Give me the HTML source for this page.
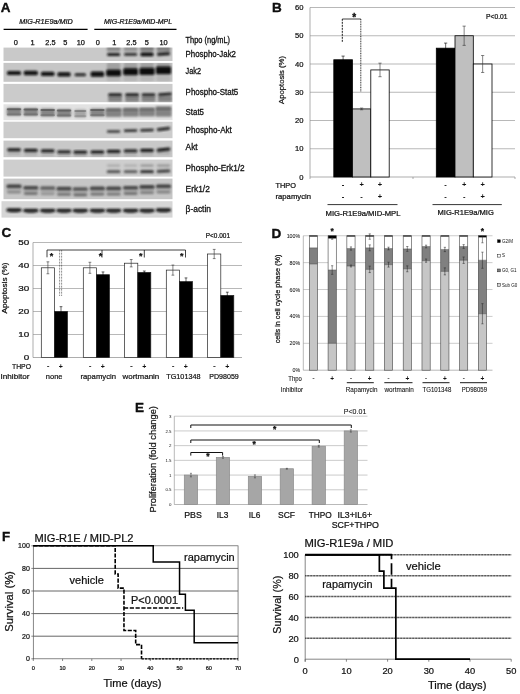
<!DOCTYPE html>
<html lang="en"><head><meta charset="utf-8"><title>Figure</title>
<style>html,body{margin:0;padding:0;background:#fff}svg{display:block}text{font-family:'Liberation Sans',sans-serif;fill:#111}</style>
</head><body>
<svg width="520" height="694" viewBox="0 0 520 694">
<rect width="520" height="694" fill="#fff"/>
<g id="panelA">
<text x="0.8" y="12.1" font-size="13.5" font-weight="bold" fill="#000" stroke="#000" stroke-width="0.35">A</text>
<text x="46" y="24.1" font-size="6.8" text-anchor="middle" textLength="53.5" lengthAdjust="spacingAndGlyphs" font-style="italic" stroke="#111" stroke-width="0.22">MIG-R1E9a/MID</text>
<text x="138" y="24.1" font-size="6.8" text-anchor="middle" textLength="68" lengthAdjust="spacingAndGlyphs" font-style="italic" stroke="#111" stroke-width="0.22">MIG-R1E9a/MID-MPL</text>
<line x1="3.6" y1="29.3" x2="87.6" y2="29.3" stroke="#000" stroke-width="1.3"/>
<line x1="94.3" y1="29.3" x2="176.5" y2="29.3" stroke="#000" stroke-width="1.3"/>
<text x="15.8" y="45.1" font-size="7.4" text-anchor="middle" stroke="#111" stroke-width="0.25">0</text>
<text x="32.6" y="45.1" font-size="7.4" text-anchor="middle" stroke="#111" stroke-width="0.25">1</text>
<text x="50.5" y="45.1" font-size="7.4" text-anchor="middle" stroke="#111" stroke-width="0.25">2.5</text>
<text x="65.4" y="45.1" font-size="7.4" text-anchor="middle" stroke="#111" stroke-width="0.25">5</text>
<text x="80.8" y="45.1" font-size="7.4" text-anchor="middle" stroke="#111" stroke-width="0.25">10</text>
<text x="97.8" y="45.1" font-size="7.4" text-anchor="middle" stroke="#111" stroke-width="0.25">0</text>
<text x="114.2" y="45.1" font-size="7.4" text-anchor="middle" stroke="#111" stroke-width="0.25">1</text>
<text x="131.5" y="45.1" font-size="7.4" text-anchor="middle" stroke="#111" stroke-width="0.25">2.5</text>
<text x="146.7" y="45.1" font-size="7.4" text-anchor="middle" stroke="#111" stroke-width="0.25">5</text>
<text x="163.5" y="45.1" font-size="7.4" text-anchor="middle" stroke="#111" stroke-width="0.25">10</text>
<text x="185.6" y="42.5" font-size="8.2" textLength="44.5" lengthAdjust="spacingAndGlyphs" stroke="#111" stroke-width="0.3">Thpo (ng/mL)</text>
<text x="185.6" y="57.3" font-size="8.8" textLength="50.4" lengthAdjust="spacingAndGlyphs" stroke="#111" stroke-width="0.3">Phospho-Jak2</text>
<text x="185.6" y="73.6" font-size="8.8" textLength="15.4" lengthAdjust="spacingAndGlyphs" stroke="#111" stroke-width="0.3">Jak2</text>
<text x="185.6" y="94.5" font-size="8.8" textLength="52.7" lengthAdjust="spacingAndGlyphs" stroke="#111" stroke-width="0.3">Phospho-Stat5</text>
<text x="185.6" y="114.8" font-size="8.8" textLength="18.4" lengthAdjust="spacingAndGlyphs" stroke="#111" stroke-width="0.3">Stat5</text>
<text x="185.6" y="132.6" font-size="8.8" textLength="46.2" lengthAdjust="spacingAndGlyphs" stroke="#111" stroke-width="0.3">Phospho-Akt</text>
<text x="185.6" y="150.3" font-size="8.8" textLength="12.1" lengthAdjust="spacingAndGlyphs" stroke="#111" stroke-width="0.3">Akt</text>
<text x="185.6" y="170.5" font-size="8.8" textLength="59.1" lengthAdjust="spacingAndGlyphs" stroke="#111" stroke-width="0.3">Phospho-Erk1/2</text>
<text x="185.6" y="191.5" font-size="8.8" textLength="24.2" lengthAdjust="spacingAndGlyphs" stroke="#111" stroke-width="0.3">Erk1/2</text>
<text x="185.6" y="212.2" font-size="8.8" textLength="25.4" lengthAdjust="spacingAndGlyphs" stroke="#111" stroke-width="0.3">β-actin</text>
<defs><filter id="b1" x="-20%" y="-50%" width="140%" height="200%"><feGaussianBlur stdDeviation="0.9"/></filter><filter id="b2" x="-20%" y="-50%" width="140%" height="200%"><feGaussianBlur stdDeviation="1.3"/></filter><filter id="b0" x="-20%" y="-50%" width="140%" height="200%"><feGaussianBlur stdDeviation="0.6"/></filter></defs>
<clipPath id="c0"><rect x="3.5" y="47.6" width="169.0" height="13.399999999999999"/></clipPath>
<rect x="3.50" y="47.60" width="169.00" height="13.40" fill="#c9c9c9"/>
<clipPath id="c1"><rect x="3.5" y="62.9" width="169.0" height="18.9"/></clipPath>
<rect x="3.50" y="62.90" width="169.00" height="18.90" fill="#c6c6c6"/>
<clipPath id="c2"><rect x="3.5" y="83.9" width="169.0" height="18.299999999999997"/></clipPath>
<rect x="3.50" y="83.90" width="169.00" height="18.30" fill="#cbcbcb"/>
<clipPath id="c3"><rect x="3.5" y="104.3" width="169.0" height="15.900000000000006"/></clipPath>
<rect x="3.50" y="104.30" width="169.00" height="15.90" fill="#e2e2e2"/>
<clipPath id="c4"><rect x="3.5" y="121.7" width="169.0" height="16.499999999999986"/></clipPath>
<rect x="3.50" y="121.70" width="169.00" height="16.50" fill="#cccccc"/>
<clipPath id="c5"><rect x="3.5" y="140.6" width="169.0" height="16.599999999999994"/></clipPath>
<rect x="3.50" y="140.60" width="169.00" height="16.60" fill="#c8c8c8"/>
<clipPath id="c6"><rect x="3.5" y="159.6" width="169.0" height="17.0"/></clipPath>
<rect x="3.50" y="159.60" width="169.00" height="17.00" fill="#cecece"/>
<clipPath id="c7"><rect x="3.5" y="178.6" width="169.0" height="20.599999999999994"/></clipPath>
<rect x="3.50" y="178.60" width="169.00" height="20.60" fill="#c6c6c6"/>
<clipPath id="c8"><rect x="3.5" y="201.2" width="169.0" height="16.400000000000006"/></clipPath>
<rect x="1.50" y="201.20" width="171.00" height="16.40" fill="#d6d6d6"/>
<g clip-path="url(#c0)"><rect x="106.85" y="45.60" width="13.5" height="6.0" rx="1.50" fill="#505050" opacity="0.5" filter="url(#b1)"/></g>
<g clip-path="url(#c0)"><rect x="107.00" y="52.90" width="13.2" height="3.0" rx="1.50" fill="#0c0c0c" opacity="0.92" filter="url(#b1)"/></g>
<g clip-path="url(#c0)"><rect x="123.85" y="45.60" width="13.5" height="6.0" rx="1.50" fill="#505050" opacity="0.42" filter="url(#b1)"/></g>
<g clip-path="url(#c0)"><rect x="124.00" y="53.00" width="13.2" height="2.8" rx="1.40" fill="#0c0c0c" opacity="0.85" filter="url(#b1)"/></g>
<g clip-path="url(#c0)"><rect x="140.25" y="45.60" width="13.5" height="6.0" rx="1.50" fill="#505050" opacity="0.62" filter="url(#b1)"/></g>
<g clip-path="url(#c0)"><rect x="140.40" y="52.60" width="13.2" height="3.6" rx="1.50" fill="#0c0c0c" opacity="1" filter="url(#b1)"/></g>
<g clip-path="url(#c0)"><rect x="156.75" y="45.60" width="13.5" height="6.0" rx="1.50" fill="#505050" opacity="0.58" filter="url(#b1)"/></g>
<g clip-path="url(#c0)"><rect x="156.90" y="52.30" width="13.2" height="3.2" rx="1.50" fill="#0c0c0c" opacity="0.95" filter="url(#b1)" transform="rotate(-4 163.5 53.9)"/></g>
<g clip-path="url(#c1)"><rect x="106.85" y="62.50" width="13.5" height="7" rx="1.50" fill="#666" opacity="0.38" filter="url(#b2)"/></g>
<g clip-path="url(#c1)"><rect x="106.85" y="75.50" width="13.5" height="6" rx="1.50" fill="#888" opacity="0.25" filter="url(#b2)"/></g>
<g clip-path="url(#c1)"><rect x="123.85" y="62.50" width="13.5" height="7" rx="1.50" fill="#666" opacity="0.38" filter="url(#b2)"/></g>
<g clip-path="url(#c1)"><rect x="123.85" y="75.50" width="13.5" height="6" rx="1.50" fill="#888" opacity="0.25" filter="url(#b2)"/></g>
<g clip-path="url(#c1)"><rect x="140.25" y="62.50" width="13.5" height="7" rx="1.50" fill="#666" opacity="0.38" filter="url(#b2)"/></g>
<g clip-path="url(#c1)"><rect x="140.25" y="75.50" width="13.5" height="6" rx="1.50" fill="#888" opacity="0.25" filter="url(#b2)"/></g>
<g clip-path="url(#c1)"><rect x="156.75" y="62.50" width="13.5" height="7" rx="1.50" fill="#666" opacity="0.38" filter="url(#b2)"/></g>
<g clip-path="url(#c1)"><rect x="156.75" y="75.50" width="13.5" height="6" rx="1.50" fill="#888" opacity="0.25" filter="url(#b2)"/></g>
<g clip-path="url(#c1)"><rect x="7.00" y="70.90" width="14" height="4.2" rx="1.50" fill="#080808" opacity="0.97" filter="url(#b1)"/></g>
<g clip-path="url(#c1)"><rect x="23.80" y="70.80" width="14" height="4.4" rx="1.50" fill="#080808" opacity="0.97" filter="url(#b1)"/></g>
<g clip-path="url(#c1)"><rect x="40.95" y="71.70" width="13.5" height="4.4" rx="1.50" fill="#080808" opacity="0.97" filter="url(#b1)"/></g>
<g clip-path="url(#c1)"><rect x="57.40" y="72.20" width="13.2" height="4.4" rx="1.50" fill="#080808" opacity="0.97" filter="url(#b1)"/></g>
<g clip-path="url(#c1)"><rect x="74.55" y="73.30" width="11.5" height="3.0" rx="1.50" fill="#080808" opacity="0.85" filter="url(#b1)"/></g>
<g clip-path="url(#c1)"><rect x="90.65" y="71.40" width="13.5" height="5.4" rx="1.50" fill="#080808" opacity="0.98" filter="url(#b1)"/></g>
<g clip-path="url(#c1)"><rect x="106.20" y="69.50" width="14.8" height="6.8" rx="1.50" fill="#080808" opacity="1" filter="url(#b1)"/></g>
<g clip-path="url(#c1)"><rect x="123.20" y="68.30" width="14.8" height="7.0" rx="1.50" fill="#080808" opacity="1" filter="url(#b1)"/></g>
<g clip-path="url(#c1)"><rect x="139.40" y="67.70" width="15.2" height="7.4" rx="1.50" fill="#080808" opacity="1" filter="url(#b1)"/></g>
<g clip-path="url(#c1)"><rect x="155.90" y="66.40" width="15.2" height="7.8" rx="1.50" fill="#080808" opacity="1" filter="url(#b1)"/></g>
<g clip-path="url(#c2)"><rect x="108.20" y="95.40" width="13.8" height="6.8" rx="1.50" fill="#7a7a7a" opacity="0.78" filter="url(#b1)"/></g>
<g clip-path="url(#c2)"><rect x="108.10" y="93.30" width="14.0" height="3.0" rx="1.50" fill="#161616" opacity="0.9" filter="url(#b1)"/></g>
<g clip-path="url(#c2)"><rect x="108.60" y="97.80" width="13.0" height="1.6" rx="0.80" fill="#555" opacity="0.35" filter="url(#b1)"/></g>
<g clip-path="url(#c2)"><rect x="125.20" y="95.40" width="13.8" height="6.8" rx="1.50" fill="#7a7a7a" opacity="0.78" filter="url(#b1)"/></g>
<g clip-path="url(#c2)"><rect x="125.10" y="93.30" width="14.0" height="3.0" rx="1.50" fill="#161616" opacity="0.9" filter="url(#b1)"/></g>
<g clip-path="url(#c2)"><rect x="125.60" y="97.80" width="13.0" height="1.6" rx="0.80" fill="#555" opacity="0.35" filter="url(#b1)"/></g>
<g clip-path="url(#c2)"><rect x="141.60" y="95.40" width="13.8" height="6.8" rx="1.50" fill="#7a7a7a" opacity="0.78" filter="url(#b1)"/></g>
<g clip-path="url(#c2)"><rect x="141.50" y="93.30" width="14.0" height="3.0" rx="1.50" fill="#161616" opacity="0.85" filter="url(#b1)"/></g>
<g clip-path="url(#c2)"><rect x="142.00" y="97.80" width="13.0" height="1.6" rx="0.80" fill="#555" opacity="0.35" filter="url(#b1)"/></g>
<g clip-path="url(#c2)"><rect x="158.10" y="95.40" width="13.8" height="6.8" rx="1.50" fill="#7a7a7a" opacity="0.78" filter="url(#b1)"/></g>
<g clip-path="url(#c2)"><rect x="158.00" y="92.70" width="14.0" height="3.0" rx="1.50" fill="#161616" opacity="0.9" filter="url(#b1)" transform="rotate(-4 165.0 94.2)"/></g>
<g clip-path="url(#c2)"><rect x="158.50" y="97.80" width="13.0" height="1.6" rx="0.80" fill="#555" opacity="0.35" filter="url(#b1)"/></g>
<g clip-path="url(#c3)"><rect x="6.75" y="107.80" width="14.5" height="8.0" rx="1.50" fill="#747474" opacity="0.85" filter="url(#b1)"/></g>
<g clip-path="url(#c3)"><rect x="6.75" y="108.20" width="14.5" height="2.0" rx="1.00" fill="#444" opacity="0.595" filter="url(#b0)"/></g>
<g clip-path="url(#c3)"><rect x="6.75" y="113.40" width="14.5" height="2.0" rx="1.00" fill="#555" opacity="0.425" filter="url(#b0)"/></g>
<g clip-path="url(#c3)"><rect x="23.55" y="108.00" width="14.5" height="8.0" rx="1.50" fill="#747474" opacity="0.85" filter="url(#b1)"/></g>
<g clip-path="url(#c3)"><rect x="23.55" y="108.40" width="14.5" height="2.0" rx="1.00" fill="#444" opacity="0.595" filter="url(#b0)"/></g>
<g clip-path="url(#c3)"><rect x="23.55" y="113.60" width="14.5" height="2.0" rx="1.00" fill="#555" opacity="0.425" filter="url(#b0)"/></g>
<g clip-path="url(#c3)"><rect x="40.45" y="108.60" width="14.5" height="8.0" rx="1.50" fill="#747474" opacity="0.85" filter="url(#b1)"/></g>
<g clip-path="url(#c3)"><rect x="40.45" y="109.00" width="14.5" height="2.0" rx="1.00" fill="#444" opacity="0.595" filter="url(#b0)"/></g>
<g clip-path="url(#c3)"><rect x="40.45" y="114.20" width="14.5" height="2.0" rx="1.00" fill="#555" opacity="0.425" filter="url(#b0)"/></g>
<g clip-path="url(#c3)"><rect x="56.75" y="109.00" width="14.5" height="8.0" rx="1.50" fill="#747474" opacity="0.85" filter="url(#b1)"/></g>
<g clip-path="url(#c3)"><rect x="56.75" y="109.40" width="14.5" height="2.0" rx="1.00" fill="#444" opacity="0.595" filter="url(#b0)"/></g>
<g clip-path="url(#c3)"><rect x="56.75" y="114.60" width="14.5" height="2.0" rx="1.00" fill="#555" opacity="0.425" filter="url(#b0)"/></g>
<g clip-path="url(#c3)"><rect x="74.30" y="109.60" width="12" height="8.0" rx="1.50" fill="#747474" opacity="0.55" filter="url(#b1)"/></g>
<g clip-path="url(#c3)"><rect x="74.30" y="110.00" width="12" height="2.0" rx="1.00" fill="#444" opacity="0.385" filter="url(#b0)"/></g>
<g clip-path="url(#c3)"><rect x="74.30" y="115.20" width="12" height="2.0" rx="1.00" fill="#555" opacity="0.275" filter="url(#b0)"/></g>
<g clip-path="url(#c3)"><rect x="90.15" y="108.60" width="14.5" height="8.0" rx="1.50" fill="#747474" opacity="0.85" filter="url(#b1)"/></g>
<g clip-path="url(#c3)"><rect x="90.15" y="109.00" width="14.5" height="2.0" rx="1.00" fill="#444" opacity="0.595" filter="url(#b0)"/></g>
<g clip-path="url(#c3)"><rect x="90.15" y="114.20" width="14.5" height="2.0" rx="1.00" fill="#555" opacity="0.425" filter="url(#b0)"/></g>
<g clip-path="url(#c3)"><rect x="105.50" y="107.90" width="16.2" height="9.0" rx="1.50" fill="#727272" opacity="0.85" filter="url(#b1)"/></g>
<g clip-path="url(#c3)"><rect x="106.10" y="108.70" width="15" height="2.2" rx="1.10" fill="#444" opacity="0.45" filter="url(#b1)"/></g>
<g clip-path="url(#c3)"><rect x="122.50" y="107.70" width="16.2" height="9.0" rx="1.50" fill="#727272" opacity="0.85" filter="url(#b1)"/></g>
<g clip-path="url(#c3)"><rect x="123.10" y="108.50" width="15" height="2.2" rx="1.10" fill="#444" opacity="0.45" filter="url(#b1)"/></g>
<g clip-path="url(#c3)"><rect x="138.90" y="107.50" width="16.2" height="9.0" rx="1.50" fill="#727272" opacity="0.85" filter="url(#b1)"/></g>
<g clip-path="url(#c3)"><rect x="139.50" y="108.30" width="15" height="2.2" rx="1.10" fill="#444" opacity="0.45" filter="url(#b1)"/></g>
<g clip-path="url(#c3)"><rect x="155.40" y="106.15" width="16.2" height="10.5" rx="1.50" fill="#727272" opacity="0.85" filter="url(#b1)"/></g>
<g clip-path="url(#c3)"><rect x="156.00" y="107.70" width="15" height="2.2" rx="1.10" fill="#444" opacity="0.45" filter="url(#b1)"/></g>
<g clip-path="url(#c4)"><rect x="106.85" y="130.10" width="13.5" height="2.8" rx="1.40" fill="#1a1a1a" opacity="0.7" filter="url(#b1)"/></g>
<g clip-path="url(#c4)"><rect x="123.85" y="129.30" width="13.5" height="2.8" rx="1.40" fill="#1a1a1a" opacity="0.85" filter="url(#b1)" transform="rotate(-1 130.6 130.7)"/></g>
<g clip-path="url(#c4)"><rect x="140.25" y="128.80" width="13.5" height="2.8" rx="1.40" fill="#1a1a1a" opacity="0.9" filter="url(#b1)" transform="rotate(-2 147.0 130.2)"/></g>
<g clip-path="url(#c4)"><rect x="156.75" y="127.60" width="13.5" height="2.8" rx="1.40" fill="#1a1a1a" opacity="0.95" filter="url(#b1)" transform="rotate(-7 163.5 129.0)"/></g>
<g clip-path="url(#c5)"><rect x="7.50" y="151.45" width="13" height="3.5" rx="1.50" fill="#777" opacity="0.3" filter="url(#b2)"/></g>
<g clip-path="url(#c5)"><rect x="7.10" y="148.15" width="13.8" height="3.1" rx="1.50" fill="#111" opacity="0.95" filter="url(#b1)"/></g>
<g clip-path="url(#c5)"><rect x="24.30" y="152.15" width="13" height="3.5" rx="1.50" fill="#777" opacity="0.3" filter="url(#b2)"/></g>
<g clip-path="url(#c5)"><rect x="23.90" y="148.85" width="13.8" height="3.1" rx="1.50" fill="#111" opacity="0.9" filter="url(#b1)"/></g>
<g clip-path="url(#c5)"><rect x="41.20" y="152.65" width="13" height="3.5" rx="1.50" fill="#777" opacity="0.3" filter="url(#b2)"/></g>
<g clip-path="url(#c5)"><rect x="40.80" y="149.35" width="13.8" height="3.1" rx="1.50" fill="#111" opacity="0.9" filter="url(#b1)"/></g>
<g clip-path="url(#c5)"><rect x="57.50" y="153.65" width="13" height="3.5" rx="1.50" fill="#777" opacity="0.3" filter="url(#b2)"/></g>
<g clip-path="url(#c5)"><rect x="57.10" y="150.35" width="13.8" height="3.1" rx="1.50" fill="#111" opacity="0.85" filter="url(#b1)"/></g>
<g clip-path="url(#c5)"><rect x="73.80" y="153.85" width="13" height="3.5" rx="1.50" fill="#777" opacity="0.3" filter="url(#b2)"/></g>
<g clip-path="url(#c5)"><rect x="73.40" y="150.55" width="13.8" height="3.1" rx="1.50" fill="#111" opacity="0.9" filter="url(#b1)"/></g>
<g clip-path="url(#c5)"><rect x="90.90" y="153.75" width="13" height="3.5" rx="1.50" fill="#777" opacity="0.3" filter="url(#b2)"/></g>
<g clip-path="url(#c5)"><rect x="90.50" y="150.45" width="13.8" height="3.1" rx="1.50" fill="#111" opacity="0.98" filter="url(#b1)"/></g>
<g clip-path="url(#c5)"><rect x="107.10" y="153.15" width="13" height="3.5" rx="1.50" fill="#777" opacity="0.3" filter="url(#b2)"/></g>
<g clip-path="url(#c5)"><rect x="106.70" y="149.85" width="13.8" height="3.1" rx="1.50" fill="#111" opacity="0.92" filter="url(#b1)"/></g>
<g clip-path="url(#c5)"><rect x="124.10" y="152.65" width="13" height="3.5" rx="1.50" fill="#777" opacity="0.3" filter="url(#b2)"/></g>
<g clip-path="url(#c5)"><rect x="123.70" y="149.35" width="13.8" height="3.1" rx="1.50" fill="#111" opacity="0.85" filter="url(#b1)"/></g>
<g clip-path="url(#c5)"><rect x="140.50" y="152.15" width="13" height="3.5" rx="1.50" fill="#777" opacity="0.3" filter="url(#b2)"/></g>
<g clip-path="url(#c5)"><rect x="140.10" y="148.85" width="13.8" height="3.1" rx="1.50" fill="#111" opacity="0.95" filter="url(#b1)"/></g>
<g clip-path="url(#c5)"><rect x="157.00" y="151.35" width="13" height="3.5" rx="1.50" fill="#777" opacity="0.3" filter="url(#b2)"/></g>
<g clip-path="url(#c5)"><rect x="156.60" y="148.05" width="13.8" height="3.1" rx="1.50" fill="#111" opacity="0.95" filter="url(#b1)" transform="rotate(-6 163.5 149.6)"/></g>
<g clip-path="url(#c6)"><rect x="106.85" y="164.20" width="13.5" height="2.8" rx="1.40" fill="#555" opacity="0.25" filter="url(#b1)"/></g>
<g clip-path="url(#c6)"><rect x="106.70" y="170.00" width="13.8" height="3.2" rx="1.50" fill="#222" opacity="0.65" filter="url(#b1)"/></g>
<g clip-path="url(#c6)"><rect x="123.85" y="164.20" width="13.5" height="2.8" rx="1.40" fill="#555" opacity="0.22" filter="url(#b1)"/></g>
<g clip-path="url(#c6)"><rect x="123.70" y="170.00" width="13.8" height="3.2" rx="1.50" fill="#222" opacity="0.6" filter="url(#b1)"/></g>
<g clip-path="url(#c6)"><rect x="140.25" y="164.20" width="13.5" height="2.8" rx="1.40" fill="#555" opacity="0.4" filter="url(#b1)"/></g>
<g clip-path="url(#c6)"><rect x="140.10" y="170.00" width="13.8" height="3.2" rx="1.50" fill="#222" opacity="0.85" filter="url(#b1)"/></g>
<g clip-path="url(#c6)"><rect x="156.75" y="164.20" width="13.5" height="2.8" rx="1.40" fill="#555" opacity="0.4" filter="url(#b1)"/></g>
<g clip-path="url(#c6)"><rect x="156.60" y="169.50" width="13.8" height="3.2" rx="1.50" fill="#222" opacity="0.8" filter="url(#b1)" transform="rotate(-3 163.5 171.1)"/></g>
<g clip-path="url(#c7)"><rect x="6.75" y="185.30" width="14.5" height="8" rx="1.50" fill="#777" opacity="0.28" filter="url(#b2)"/></g>
<g clip-path="url(#c7)"><rect x="6.50" y="184.50" width="15.0" height="3.6" rx="1.50" fill="#2e2e2e" opacity="0.85" filter="url(#b1)"/></g>
<g clip-path="url(#c7)"><rect x="7.20" y="190.70" width="13.6" height="2.8" rx="1.40" fill="#444" opacity="0.35" filter="url(#b1)"/></g>
<g clip-path="url(#c7)"><rect x="23.55" y="186.70" width="14.5" height="8" rx="1.50" fill="#777" opacity="0.28" filter="url(#b2)"/></g>
<g clip-path="url(#c7)"><rect x="23.30" y="185.90" width="15.0" height="3.6" rx="1.50" fill="#2e2e2e" opacity="0.8" filter="url(#b1)"/></g>
<g clip-path="url(#c7)"><rect x="24.00" y="192.10" width="13.6" height="2.8" rx="1.40" fill="#444" opacity="0.55" filter="url(#b1)"/></g>
<g clip-path="url(#c7)"><rect x="40.45" y="187.00" width="14.5" height="8" rx="1.50" fill="#777" opacity="0.28" filter="url(#b2)"/></g>
<g clip-path="url(#c7)"><rect x="40.20" y="186.20" width="15.0" height="3.6" rx="1.50" fill="#2e2e2e" opacity="0.62" filter="url(#b1)"/></g>
<g clip-path="url(#c7)"><rect x="40.90" y="192.40" width="13.6" height="2.8" rx="1.40" fill="#444" opacity="0.25" filter="url(#b1)"/></g>
<g clip-path="url(#c7)"><rect x="56.75" y="187.60" width="14.5" height="8" rx="1.50" fill="#777" opacity="0.28" filter="url(#b2)"/></g>
<g clip-path="url(#c7)"><rect x="56.50" y="186.80" width="15.0" height="3.6" rx="1.50" fill="#2e2e2e" opacity="0.8" filter="url(#b1)"/></g>
<g clip-path="url(#c7)"><rect x="57.20" y="193.00" width="13.6" height="2.8" rx="1.40" fill="#444" opacity="0.55" filter="url(#b1)"/></g>
<g clip-path="url(#c7)"><rect x="73.05" y="188.00" width="14.5" height="8" rx="1.50" fill="#777" opacity="0.28" filter="url(#b2)"/></g>
<g clip-path="url(#c7)"><rect x="72.80" y="187.20" width="15.0" height="3.6" rx="1.50" fill="#2e2e2e" opacity="0.7" filter="url(#b1)"/></g>
<g clip-path="url(#c7)"><rect x="73.50" y="193.40" width="13.6" height="2.8" rx="1.40" fill="#444" opacity="0.65" filter="url(#b1)"/></g>
<g clip-path="url(#c7)"><rect x="90.15" y="187.40" width="14.5" height="8" rx="1.50" fill="#777" opacity="0.28" filter="url(#b2)"/></g>
<g clip-path="url(#c7)"><rect x="89.90" y="186.60" width="15.0" height="3.6" rx="1.50" fill="#2e2e2e" opacity="0.8" filter="url(#b1)"/></g>
<g clip-path="url(#c7)"><rect x="90.60" y="192.80" width="13.6" height="2.8" rx="1.40" fill="#444" opacity="0.55" filter="url(#b1)"/></g>
<g clip-path="url(#c7)"><rect x="106.35" y="187.40" width="14.5" height="8" rx="1.50" fill="#777" opacity="0.28" filter="url(#b2)"/></g>
<g clip-path="url(#c7)"><rect x="106.10" y="186.60" width="15.0" height="3.6" rx="1.50" fill="#2e2e2e" opacity="0.8" filter="url(#b1)"/></g>
<g clip-path="url(#c7)"><rect x="106.80" y="192.80" width="13.6" height="2.8" rx="1.40" fill="#444" opacity="0.5" filter="url(#b1)"/></g>
<g clip-path="url(#c7)"><rect x="123.35" y="186.70" width="14.5" height="8" rx="1.50" fill="#777" opacity="0.28" filter="url(#b2)"/></g>
<g clip-path="url(#c7)"><rect x="123.10" y="185.90" width="15.0" height="3.6" rx="1.50" fill="#2e2e2e" opacity="0.8" filter="url(#b1)"/></g>
<g clip-path="url(#c7)"><rect x="123.80" y="192.10" width="13.6" height="2.8" rx="1.40" fill="#444" opacity="0.55" filter="url(#b1)"/></g>
<g clip-path="url(#c7)"><rect x="139.75" y="185.90" width="14.5" height="8" rx="1.50" fill="#777" opacity="0.28" filter="url(#b2)"/></g>
<g clip-path="url(#c7)"><rect x="139.50" y="185.10" width="15.0" height="3.6" rx="1.50" fill="#2e2e2e" opacity="0.85" filter="url(#b1)"/></g>
<g clip-path="url(#c7)"><rect x="140.20" y="191.30" width="13.6" height="2.8" rx="1.40" fill="#444" opacity="0.45" filter="url(#b1)"/></g>
<g clip-path="url(#c7)"><rect x="156.25" y="185.30" width="14.5" height="8" rx="1.50" fill="#777" opacity="0.28" filter="url(#b2)"/></g>
<g clip-path="url(#c7)"><rect x="156.00" y="184.50" width="15.0" height="3.6" rx="1.50" fill="#2e2e2e" opacity="0.85" filter="url(#b1)"/></g>
<g clip-path="url(#c7)"><rect x="156.70" y="190.70" width="13.6" height="2.8" rx="1.40" fill="#444" opacity="0.4" filter="url(#b1)"/></g>
<g clip-path="url(#c8)"><rect x="6.40" y="208.15" width="15.2" height="3.5" rx="1.50" fill="#161616" opacity="0.93" filter="url(#b1)"/></g>
<g clip-path="url(#c8)"><rect x="9.50" y="209.80" width="9" height="2.6" rx="1.30" fill="#222" opacity="0.55" filter="url(#b1)"/></g>
<g clip-path="url(#c8)"><rect x="23.20" y="208.85" width="15.2" height="3.5" rx="1.50" fill="#161616" opacity="0.93" filter="url(#b1)"/></g>
<g clip-path="url(#c8)"><rect x="26.30" y="210.50" width="9" height="2.6" rx="1.30" fill="#222" opacity="0.55" filter="url(#b1)"/></g>
<g clip-path="url(#c8)"><rect x="40.10" y="208.85" width="15.2" height="3.5" rx="1.50" fill="#161616" opacity="0.93" filter="url(#b1)"/></g>
<g clip-path="url(#c8)"><rect x="43.20" y="210.50" width="9" height="2.6" rx="1.30" fill="#222" opacity="0.55" filter="url(#b1)"/></g>
<g clip-path="url(#c8)"><rect x="56.40" y="208.85" width="15.2" height="3.5" rx="1.50" fill="#161616" opacity="0.93" filter="url(#b1)"/></g>
<g clip-path="url(#c8)"><rect x="59.50" y="210.50" width="9" height="2.6" rx="1.30" fill="#222" opacity="0.55" filter="url(#b1)"/></g>
<g clip-path="url(#c8)"><rect x="72.70" y="208.85" width="15.2" height="3.5" rx="1.50" fill="#161616" opacity="0.93" filter="url(#b1)"/></g>
<g clip-path="url(#c8)"><rect x="75.80" y="210.50" width="9" height="2.6" rx="1.30" fill="#222" opacity="0.55" filter="url(#b1)"/></g>
<g clip-path="url(#c8)"><rect x="89.80" y="208.85" width="15.2" height="3.5" rx="1.50" fill="#161616" opacity="0.93" filter="url(#b1)"/></g>
<g clip-path="url(#c8)"><rect x="92.90" y="210.50" width="9" height="2.6" rx="1.30" fill="#222" opacity="0.55" filter="url(#b1)"/></g>
<g clip-path="url(#c8)"><rect x="106.00" y="208.85" width="15.2" height="3.5" rx="1.50" fill="#161616" opacity="0.93" filter="url(#b1)"/></g>
<g clip-path="url(#c8)"><rect x="109.10" y="210.50" width="9" height="2.6" rx="1.30" fill="#222" opacity="0.55" filter="url(#b1)"/></g>
<g clip-path="url(#c8)"><rect x="123.00" y="208.85" width="15.2" height="3.5" rx="1.50" fill="#161616" opacity="0.93" filter="url(#b1)"/></g>
<g clip-path="url(#c8)"><rect x="126.10" y="210.50" width="9" height="2.6" rx="1.30" fill="#222" opacity="0.55" filter="url(#b1)"/></g>
<g clip-path="url(#c8)"><rect x="139.40" y="208.85" width="15.2" height="3.5" rx="1.50" fill="#161616" opacity="0.93" filter="url(#b1)"/></g>
<g clip-path="url(#c8)"><rect x="142.50" y="210.50" width="9" height="2.6" rx="1.30" fill="#222" opacity="0.55" filter="url(#b1)"/></g>
<g clip-path="url(#c8)"><rect x="155.90" y="208.15" width="15.2" height="3.5" rx="1.50" fill="#161616" opacity="0.93" filter="url(#b1)"/></g>
<g clip-path="url(#c8)"><rect x="159.00" y="209.80" width="9" height="2.6" rx="1.30" fill="#222" opacity="0.55" filter="url(#b1)"/></g>
</g>
<g id="panelB">
<text x="272" y="12.1" font-size="13.5" font-weight="bold" fill="#000" stroke="#000" stroke-width="0.35">B</text>
<line x1="310.0" y1="177.0" x2="515" y2="177.0" stroke="#8a8a8a" stroke-width="0.7"/>
<text x="303.5" y="179.7" font-size="7.6" text-anchor="end" stroke="#111" stroke-width="0.22">0</text>
<line x1="310.0" y1="148.75" x2="515" y2="148.75" stroke="#9a9a9a" stroke-width="0.7"/>
<text x="303.5" y="151.45" font-size="7.6" text-anchor="end" stroke="#111" stroke-width="0.22">10</text>
<line x1="310.0" y1="120.5" x2="515" y2="120.5" stroke="#9a9a9a" stroke-width="0.7"/>
<text x="303.5" y="123.2" font-size="7.6" text-anchor="end" stroke="#111" stroke-width="0.22">20</text>
<line x1="310.0" y1="92.25" x2="515" y2="92.25" stroke="#9a9a9a" stroke-width="0.7"/>
<text x="303.5" y="94.95" font-size="7.6" text-anchor="end" stroke="#111" stroke-width="0.22">30</text>
<line x1="310.0" y1="64.0" x2="515" y2="64.0" stroke="#9a9a9a" stroke-width="0.7"/>
<text x="303.5" y="66.7" font-size="7.6" text-anchor="end" stroke="#111" stroke-width="0.22">40</text>
<line x1="310.0" y1="35.75" x2="515" y2="35.75" stroke="#9a9a9a" stroke-width="0.7"/>
<text x="303.5" y="38.45" font-size="7.6" text-anchor="end" stroke="#111" stroke-width="0.22">50</text>
<line x1="310.0" y1="7.5" x2="515" y2="7.5" stroke="#9a9a9a" stroke-width="0.7"/>
<text x="303.5" y="10.2" font-size="7.6" text-anchor="end" stroke="#111" stroke-width="0.22">60</text>
<line x1="310.0" y1="7.5" x2="310.0" y2="179.0" stroke="#8a8a8a" stroke-width="0.7"/>
<line x1="413" y1="177.0" x2="413" y2="179.0" stroke="#8a8a8a" stroke-width="0.7"/>
<line x1="515" y1="177.0" x2="515" y2="179.0" stroke="#8a8a8a" stroke-width="0.7"/>
<rect x="333.80" y="59.76" width="18.60" height="117.24" fill="#000" stroke="#000" stroke-width="0.8"/>
<path d="M343.10 56.09V63.43M341.50 56.09H344.70M341.50 63.43H344.70" stroke="#000" stroke-width="0.6" fill="none"/>
<rect x="352.40" y="108.92" width="18.40" height="68.08" fill="#bfbfbf" stroke="#000" stroke-width="0.8"/>
<path d="M361.60 108.07V109.76M360.00 108.07H363.20M360.00 109.76H363.20" stroke="#333" stroke-width="0.6" fill="none"/>
<rect x="370.80" y="69.93" width="18.40" height="107.07" fill="#fff" stroke="#000" stroke-width="0.8"/>
<path d="M380.00 63.15V76.71M378.40 63.15H381.60M378.40 76.71H381.60" stroke="#333" stroke-width="0.6" fill="none"/>
<rect x="436.30" y="48.18" width="18.70" height="128.82" fill="#000" stroke="#000" stroke-width="0.8"/>
<path d="M445.65 43.09V53.26M444.05 43.09H447.25M444.05 53.26H447.25" stroke="#000" stroke-width="0.6" fill="none"/>
<rect x="455.00" y="35.75" width="18.30" height="141.25" fill="#bfbfbf" stroke="#000" stroke-width="0.8"/>
<path d="M464.15 26.14V45.36M462.55 26.14H465.75M462.55 45.36H465.75" stroke="#333" stroke-width="0.6" fill="none"/>
<rect x="473.30" y="64.00" width="18.70" height="113.00" fill="#fff" stroke="#000" stroke-width="0.8"/>
<path d="M482.65 55.52V72.47M481.05 55.52H484.25M481.05 72.47H484.25" stroke="#333" stroke-width="0.6" fill="none"/>
<path d="M342.3 41.8V19" stroke="#000" stroke-width="0.9" fill="none" stroke-dasharray="2 1"/>
<path d="M360.8 19V92" stroke="#000" stroke-width="0.85" fill="none" stroke-dasharray="1 0.7"/>
<path d="M342.3 19H360.8" stroke="#111" stroke-width="0.8" fill="none"/>
<text x="354.2" y="21" font-size="10" text-anchor="middle" font-weight="bold" fill="#000" stroke="#000" stroke-width="0.3">*</text>
<text x="507.5" y="18.6" font-size="6.6" text-anchor="end" textLength="21.5" lengthAdjust="spacingAndGlyphs" stroke="#111" stroke-width="0.22">P&lt;0.01</text>
<text x="275.5" y="187.6" font-size="6.9" textLength="20.5" lengthAdjust="spacingAndGlyphs" stroke="#111" stroke-width="0.22">THPO</text>
<text x="275.5" y="199.4" font-size="6.9" textLength="35.5" lengthAdjust="spacingAndGlyphs" stroke="#111" stroke-width="0.22">rapamycin</text>
<text x="343" y="187.4" font-size="7.5" text-anchor="middle" font-weight="bold">-</text>
<text x="343" y="199.2" font-size="7.5" text-anchor="middle" font-weight="bold">-</text>
<text x="361.6" y="187.4" font-size="7.5" text-anchor="middle" font-weight="bold">+</text>
<text x="361.6" y="199.2" font-size="7.5" text-anchor="middle" font-weight="bold">-</text>
<text x="380" y="187.4" font-size="7.5" text-anchor="middle" font-weight="bold">+</text>
<text x="380" y="199.2" font-size="7.5" text-anchor="middle" font-weight="bold">+</text>
<text x="445.6" y="187.4" font-size="7.5" text-anchor="middle" font-weight="bold">-</text>
<text x="445.6" y="199.2" font-size="7.5" text-anchor="middle" font-weight="bold">-</text>
<text x="464.2" y="187.4" font-size="7.5" text-anchor="middle" font-weight="bold">+</text>
<text x="464.2" y="199.2" font-size="7.5" text-anchor="middle" font-weight="bold">-</text>
<text x="482.6" y="187.4" font-size="7.5" text-anchor="middle" font-weight="bold">+</text>
<text x="482.6" y="199.2" font-size="7.5" text-anchor="middle" font-weight="bold">+</text>
<line x1="327.5" y1="204.6" x2="397.5" y2="204.6" stroke="#000" stroke-width="0.8"/>
<line x1="432.5" y1="204.6" x2="501.8" y2="204.6" stroke="#000" stroke-width="0.8"/>
<text x="325.5" y="215.6" font-size="7.0" textLength="75" lengthAdjust="spacingAndGlyphs" stroke="#111" stroke-width="0.22">MIG-R1E9a/MID-MPL</text>
<text x="437.5" y="214.6" font-size="7.0" textLength="56.3" lengthAdjust="spacingAndGlyphs" stroke="#111" stroke-width="0.22">MIG-R1E9a/MIG</text>
<text x="284.2" y="80" font-size="7.2" text-anchor="middle" textLength="48" lengthAdjust="spacingAndGlyphs" transform="rotate(-90 284.2 80)" stroke="#111" stroke-width="0.22">Apoptosis (%)</text>
</g>
<g id="panelC">
<text x="1.5" y="237.3" font-size="13.5" font-weight="bold" fill="#000" stroke="#000" stroke-width="0.35">C</text>
<line x1="33.0" y1="357.5" x2="242" y2="357.5" stroke="#8a8a8a" stroke-width="0.7"/>
<text x="29.3" y="360.4" font-size="7.8" text-anchor="end" textLength="5.5" lengthAdjust="spacingAndGlyphs" stroke="#111" stroke-width="0.22">0</text>
<line x1="33.0" y1="334.5" x2="242" y2="334.5" stroke="#9a9a9a" stroke-width="0.7"/>
<text x="29.3" y="337.4" font-size="7.8" text-anchor="end" textLength="11" lengthAdjust="spacingAndGlyphs" stroke="#111" stroke-width="0.22">10</text>
<line x1="33.0" y1="311.5" x2="242" y2="311.5" stroke="#9a9a9a" stroke-width="0.7"/>
<text x="29.3" y="314.4" font-size="7.8" text-anchor="end" textLength="11" lengthAdjust="spacingAndGlyphs" stroke="#111" stroke-width="0.22">20</text>
<line x1="33.0" y1="288.5" x2="242" y2="288.5" stroke="#9a9a9a" stroke-width="0.7"/>
<text x="29.3" y="291.4" font-size="7.8" text-anchor="end" textLength="11" lengthAdjust="spacingAndGlyphs" stroke="#111" stroke-width="0.22">30</text>
<line x1="33.0" y1="265.5" x2="242" y2="265.5" stroke="#9a9a9a" stroke-width="0.7"/>
<text x="29.3" y="268.4" font-size="7.8" text-anchor="end" textLength="11" lengthAdjust="spacingAndGlyphs" stroke="#111" stroke-width="0.22">40</text>
<line x1="33.0" y1="242.5" x2="242" y2="242.5" stroke="#9a9a9a" stroke-width="0.7"/>
<text x="29.3" y="245.4" font-size="7.8" text-anchor="end" textLength="11" lengthAdjust="spacingAndGlyphs" stroke="#111" stroke-width="0.22">50</text>
<line x1="33.0" y1="242.5" x2="33.0" y2="357.5" stroke="#8a8a8a" stroke-width="0.7"/>
<rect x="41.30" y="267.80" width="13.20" height="89.70" fill="#fff" stroke="#222" stroke-width="0.7"/>
<path d="M47.90 261.82V273.78M46.50 261.82H49.30M46.50 273.78H49.30" stroke="#333" stroke-width="0.6" fill="none"/>
<rect x="54.50" y="311.50" width="13.00" height="46.00" fill="#000" stroke="#222" stroke-width="0.7"/>
<path d="M61.00 306.67V316.33M59.60 306.67H62.40M59.60 316.33H62.40" stroke="#000" stroke-width="0.6" fill="none"/>
<rect x="83.30" y="267.80" width="13.20" height="89.70" fill="#fff" stroke="#222" stroke-width="0.7"/>
<path d="M89.90 262.28V273.32M88.50 262.28H91.30M88.50 273.32H91.30" stroke="#333" stroke-width="0.6" fill="none"/>
<rect x="96.50" y="274.70" width="13.00" height="82.80" fill="#000" stroke="#222" stroke-width="0.7"/>
<path d="M103.00 271.94V277.46M101.60 271.94H104.40M101.60 277.46H104.40" stroke="#000" stroke-width="0.6" fill="none"/>
<rect x="124.60" y="263.20" width="13.20" height="94.30" fill="#fff" stroke="#222" stroke-width="0.7"/>
<path d="M131.20 259.52V266.88M129.80 259.52H132.60M129.80 266.88H132.60" stroke="#333" stroke-width="0.6" fill="none"/>
<rect x="137.80" y="272.40" width="13.00" height="85.10" fill="#000" stroke="#222" stroke-width="0.7"/>
<path d="M144.30 271.02V273.78M142.90 271.02H145.70M142.90 273.78H145.70" stroke="#000" stroke-width="0.6" fill="none"/>
<rect x="166.30" y="270.10" width="13.20" height="87.40" fill="#fff" stroke="#222" stroke-width="0.7"/>
<path d="M172.90 265.04V275.16M171.50 265.04H174.30M171.50 275.16H174.30" stroke="#333" stroke-width="0.6" fill="none"/>
<rect x="179.50" y="281.60" width="13.00" height="75.90" fill="#000" stroke="#222" stroke-width="0.7"/>
<path d="M186.00 277.92V285.28M184.60 277.92H187.40M184.60 285.28H187.40" stroke="#000" stroke-width="0.6" fill="none"/>
<rect x="207.60" y="254.00" width="13.20" height="103.50" fill="#fff" stroke="#222" stroke-width="0.7"/>
<path d="M214.20 249.40V258.60M212.80 249.40H215.60M212.80 258.60H215.60" stroke="#333" stroke-width="0.6" fill="none"/>
<rect x="220.80" y="295.40" width="13.00" height="62.10" fill="#000" stroke="#222" stroke-width="0.7"/>
<path d="M227.30 292.18V298.62M225.90 292.18H228.70M225.90 298.62H228.70" stroke="#000" stroke-width="0.6" fill="none"/>
<path d="M47 257.3V250H185.5V257.5M102 250V257.5M144.3 250V257.5" stroke="#111" stroke-width="0.8" fill="none"/>
<path d="M59.6 250V296M61.6 250V296" stroke="#333" stroke-width="0.7" fill="none" stroke-dasharray="0.8 0.7"/>
<text x="51.5" y="259.2" font-size="9" text-anchor="middle" font-weight="bold" fill="#000" stroke="#000" stroke-width="0.2">*</text>
<text x="100.5" y="259.2" font-size="9" text-anchor="middle" font-weight="bold" fill="#000" stroke="#000" stroke-width="0.2">*</text>
<text x="140.7" y="259.2" font-size="9" text-anchor="middle" font-weight="bold" fill="#000" stroke="#000" stroke-width="0.2">*</text>
<text x="181.7" y="259.2" font-size="9" text-anchor="middle" font-weight="bold" fill="#000" stroke="#000" stroke-width="0.2">*</text>
<text x="230" y="238.1" font-size="6.6" text-anchor="end" textLength="24.3" lengthAdjust="spacingAndGlyphs" stroke="#111" stroke-width="0.22">P&lt;0.001</text>
<text x="12" y="368.8" font-size="8.0" textLength="19" lengthAdjust="spacingAndGlyphs" stroke="#111" stroke-width="0.22">THPO</text>
<text x="0.5" y="378.8" font-size="8.0" textLength="29" lengthAdjust="spacingAndGlyphs" stroke="#111" stroke-width="0.22">Inhibitor</text>
<text x="45.8" y="378.8" font-size="8.0" textLength="16.7" lengthAdjust="spacingAndGlyphs" stroke="#111" stroke-width="0.22">none</text>
<text x="80.5" y="378.8" font-size="8.0" textLength="35.5" lengthAdjust="spacingAndGlyphs" stroke="#111" stroke-width="0.22">rapamycin</text>
<text x="122.5" y="378.8" font-size="8.0" textLength="36.8" lengthAdjust="spacingAndGlyphs" stroke="#111" stroke-width="0.22">wortmanin</text>
<text x="166.3" y="378.8" font-size="8.0" textLength="34.2" lengthAdjust="spacingAndGlyphs" stroke="#111" stroke-width="0.22">TG101348</text>
<text x="209.3" y="378.8" font-size="8.0" textLength="29.5" lengthAdjust="spacingAndGlyphs" stroke="#111" stroke-width="0.22">PD98059</text>
<text x="48.099999999999994" y="368.3" font-size="7" text-anchor="middle" stroke="#111" stroke-width="0.22">-</text>
<text x="60.9" y="368.6" font-size="7" text-anchor="middle" font-weight="bold">+</text>
<text x="90.1" y="368.3" font-size="7" text-anchor="middle" stroke="#111" stroke-width="0.22">-</text>
<text x="102.9" y="368.6" font-size="7" text-anchor="middle" font-weight="bold">+</text>
<text x="131.4" y="368.3" font-size="7" text-anchor="middle" stroke="#111" stroke-width="0.22">-</text>
<text x="144.2" y="368.6" font-size="7" text-anchor="middle" font-weight="bold">+</text>
<text x="173.10000000000002" y="368.3" font-size="7" text-anchor="middle" stroke="#111" stroke-width="0.22">-</text>
<text x="185.9" y="368.6" font-size="7" text-anchor="middle" font-weight="bold">+</text>
<text x="214.4" y="368.3" font-size="7" text-anchor="middle" stroke="#111" stroke-width="0.22">-</text>
<text x="227.2" y="368.6" font-size="7" text-anchor="middle" font-weight="bold">+</text>
<text x="7.2" y="288" font-size="7.4" text-anchor="middle" textLength="51" lengthAdjust="spacingAndGlyphs" transform="rotate(-90 7.2 288)" stroke="#111" stroke-width="0.22">Apoptosis (%)</text>
</g>
<g id="panelD">
<text x="271.5" y="237.6" font-size="13.5" font-weight="bold" fill="#000" stroke="#000" stroke-width="0.35">D</text>
<line x1="303.3" y1="370.2" x2="492.5" y2="370.2" stroke="#8a8a8a" stroke-width="0.6"/>
<text x="300.2" y="372.2" font-size="5.3" text-anchor="end" fill="#222" stroke="#222" stroke-width="0.05">0%</text>
<line x1="303.3" y1="343.31" x2="492.5" y2="343.31" stroke="#a8a8a8" stroke-width="0.6"/>
<text x="300.2" y="345.31" font-size="5.3" text-anchor="end" fill="#222" stroke="#222" stroke-width="0.05">20%</text>
<line x1="303.3" y1="316.41999999999996" x2="492.5" y2="316.41999999999996" stroke="#a8a8a8" stroke-width="0.6"/>
<text x="300.2" y="318.41999999999996" font-size="5.3" text-anchor="end" fill="#222" stroke="#222" stroke-width="0.05">40%</text>
<line x1="303.3" y1="289.53" x2="492.5" y2="289.53" stroke="#a8a8a8" stroke-width="0.6"/>
<text x="300.2" y="291.53" font-size="5.3" text-anchor="end" fill="#222" stroke="#222" stroke-width="0.05">60%</text>
<line x1="303.3" y1="262.64" x2="492.5" y2="262.64" stroke="#a8a8a8" stroke-width="0.6"/>
<text x="300.2" y="264.64" font-size="5.3" text-anchor="end" fill="#222" stroke="#222" stroke-width="0.05">80%</text>
<line x1="303.3" y1="235.75" x2="492.5" y2="235.75" stroke="#a8a8a8" stroke-width="0.6"/>
<text x="300.2" y="237.75" font-size="5.3" text-anchor="end" fill="#222" stroke="#222" stroke-width="0.05">100%</text>
<line x1="303.3" y1="235.75" x2="303.3" y2="370.2" stroke="#8a8a8a" stroke-width="0.6"/>
<rect x="309.30" y="263.98" width="8.20" height="106.22" fill="#c6c6c6"/>
<rect x="309.30" y="247.85" width="8.20" height="16.13" fill="#808080"/>
<rect x="309.30" y="236.56" width="8.20" height="11.29" fill="#fff"/>
<rect x="309.30" y="235.55" width="8.20" height="1.01" fill="#000"/>
<rect x="309.30" y="235.75" width="8.20" height="134.45" fill="none" stroke="#444" stroke-width="0.6"/>
<path d="M309.30 263.98h8.2M309.30 247.85h8.2" stroke="#444" stroke-width="0.5" fill="none"/>
<rect x="328.08" y="343.31" width="8.20" height="26.89" fill="#c6c6c6"/>
<rect x="328.08" y="270.03" width="8.20" height="73.28" fill="#808080"/>
<rect x="328.08" y="238.44" width="8.20" height="31.60" fill="#fff"/>
<rect x="328.08" y="235.55" width="8.20" height="2.89" fill="#000"/>
<rect x="328.08" y="235.75" width="8.20" height="134.45" fill="none" stroke="#444" stroke-width="0.6"/>
<path d="M328.08 343.31h8.2M328.08 270.03h8.2" stroke="#444" stroke-width="0.5" fill="none"/>
<path d="M332.18 265.73V274.34M331.08 265.73H333.28M331.08 274.34H333.28" stroke="#222" stroke-width="0.5" fill="none"/>
<path d="M332.18 237.63V239.25M331.08 237.63H333.28M331.08 239.25H333.28" stroke="#222" stroke-width="0.5" fill="none"/>
<rect x="346.86" y="266.00" width="8.20" height="104.20" fill="#c6c6c6"/>
<rect x="346.86" y="248.52" width="8.20" height="17.48" fill="#808080"/>
<rect x="346.86" y="236.56" width="8.20" height="11.97" fill="#fff"/>
<rect x="346.86" y="235.55" width="8.20" height="1.01" fill="#000"/>
<rect x="346.86" y="235.75" width="8.20" height="134.45" fill="none" stroke="#444" stroke-width="0.6"/>
<path d="M346.86 266.00h8.2M346.86 248.52h8.2" stroke="#444" stroke-width="0.5" fill="none"/>
<path d="M350.96 265.06V266.94M349.86 265.06H352.06M349.86 266.94H352.06" stroke="#222" stroke-width="0.5" fill="none"/>
<path d="M350.96 246.91V250.14M349.86 246.91H352.06M349.86 250.14H352.06" stroke="#222" stroke-width="0.5" fill="none"/>
<rect x="365.64" y="269.36" width="8.20" height="100.84" fill="#c6c6c6"/>
<rect x="365.64" y="247.85" width="8.20" height="21.51" fill="#808080"/>
<rect x="365.64" y="236.56" width="8.20" height="11.29" fill="#fff"/>
<rect x="365.64" y="235.55" width="8.20" height="1.01" fill="#000"/>
<rect x="365.64" y="235.75" width="8.20" height="134.45" fill="none" stroke="#444" stroke-width="0.6"/>
<path d="M365.64 269.36h8.2M365.64 247.85h8.2" stroke="#444" stroke-width="0.5" fill="none"/>
<path d="M369.74 266.14V272.59M368.64 266.14H370.84M368.64 272.59H370.84" stroke="#222" stroke-width="0.5" fill="none"/>
<path d="M369.74 244.89V250.81M368.64 244.89H370.84M368.64 250.81H370.84" stroke="#222" stroke-width="0.5" fill="none"/>
<path d="M369.74 233.87V239.25M368.64 233.87H370.84M368.64 239.25H370.84" stroke="#222" stroke-width="0.5" fill="none"/>
<rect x="384.42" y="264.66" width="8.20" height="105.54" fill="#c6c6c6"/>
<rect x="384.42" y="248.52" width="8.20" height="16.13" fill="#808080"/>
<rect x="384.42" y="236.56" width="8.20" height="11.97" fill="#fff"/>
<rect x="384.42" y="235.55" width="8.20" height="1.01" fill="#000"/>
<rect x="384.42" y="235.75" width="8.20" height="134.45" fill="none" stroke="#444" stroke-width="0.6"/>
<path d="M384.42 264.66h8.2M384.42 248.52h8.2" stroke="#444" stroke-width="0.5" fill="none"/>
<path d="M388.52 262.24V267.08M387.42 262.24H389.62M387.42 267.08H389.62" stroke="#222" stroke-width="0.5" fill="none"/>
<path d="M388.52 247.18V249.87M387.42 247.18H389.62M387.42 249.87H389.62" stroke="#222" stroke-width="0.5" fill="none"/>
<rect x="403.20" y="268.82" width="8.20" height="101.38" fill="#c6c6c6"/>
<rect x="403.20" y="248.93" width="8.20" height="19.90" fill="#808080"/>
<rect x="403.20" y="236.56" width="8.20" height="12.37" fill="#fff"/>
<rect x="403.20" y="235.55" width="8.20" height="1.01" fill="#000"/>
<rect x="403.20" y="235.75" width="8.20" height="134.45" fill="none" stroke="#444" stroke-width="0.6"/>
<path d="M403.20 268.82h8.2M403.20 248.93h8.2" stroke="#444" stroke-width="0.5" fill="none"/>
<path d="M407.30 265.87V271.78M406.20 265.87H408.40M406.20 271.78H408.40" stroke="#222" stroke-width="0.5" fill="none"/>
<path d="M407.30 246.51V251.35M406.20 246.51H408.40M406.20 251.35H408.40" stroke="#222" stroke-width="0.5" fill="none"/>
<rect x="421.98" y="260.62" width="8.20" height="109.58" fill="#c6c6c6"/>
<rect x="421.98" y="246.51" width="8.20" height="14.12" fill="#808080"/>
<rect x="421.98" y="236.56" width="8.20" height="9.95" fill="#fff"/>
<rect x="421.98" y="235.55" width="8.20" height="1.01" fill="#000"/>
<rect x="421.98" y="235.75" width="8.20" height="134.45" fill="none" stroke="#444" stroke-width="0.6"/>
<path d="M421.98 260.62h8.2M421.98 246.51h8.2" stroke="#444" stroke-width="0.5" fill="none"/>
<path d="M426.08 259.01V262.24M424.98 259.01H427.18M424.98 262.24H427.18" stroke="#222" stroke-width="0.5" fill="none"/>
<path d="M426.08 245.16V247.85M424.98 245.16H427.18M424.98 247.85H427.18" stroke="#222" stroke-width="0.5" fill="none"/>
<rect x="440.76" y="271.38" width="8.20" height="98.82" fill="#c6c6c6"/>
<rect x="440.76" y="249.46" width="8.20" height="21.92" fill="#808080"/>
<rect x="440.76" y="236.56" width="8.20" height="12.91" fill="#fff"/>
<rect x="440.76" y="235.55" width="8.20" height="1.01" fill="#000"/>
<rect x="440.76" y="235.75" width="8.20" height="134.45" fill="none" stroke="#444" stroke-width="0.6"/>
<path d="M440.76 271.38h8.2M440.76 249.46h8.2" stroke="#444" stroke-width="0.5" fill="none"/>
<path d="M444.86 267.88V274.87M443.76 267.88H445.96M443.76 274.87H445.96" stroke="#222" stroke-width="0.5" fill="none"/>
<path d="M444.86 247.31V251.62M443.76 247.31H445.96M443.76 251.62H445.96" stroke="#222" stroke-width="0.5" fill="none"/>
<rect x="459.54" y="260.22" width="8.20" height="109.98" fill="#c6c6c6"/>
<rect x="459.54" y="246.51" width="8.20" height="13.71" fill="#808080"/>
<rect x="459.54" y="236.56" width="8.20" height="9.95" fill="#fff"/>
<rect x="459.54" y="235.55" width="8.20" height="1.01" fill="#000"/>
<rect x="459.54" y="235.75" width="8.20" height="134.45" fill="none" stroke="#444" stroke-width="0.6"/>
<path d="M459.54 260.22h8.2M459.54 246.51h8.2" stroke="#444" stroke-width="0.5" fill="none"/>
<path d="M463.64 256.99V263.45M462.54 256.99H464.74M462.54 263.45H464.74" stroke="#222" stroke-width="0.5" fill="none"/>
<path d="M463.64 244.62V248.39M462.54 244.62H464.74M462.54 248.39H464.74" stroke="#222" stroke-width="0.5" fill="none"/>
<rect x="478.32" y="313.73" width="8.20" height="56.47" fill="#c6c6c6"/>
<rect x="478.32" y="260.22" width="8.20" height="53.51" fill="#808080"/>
<rect x="478.32" y="237.36" width="8.20" height="22.86" fill="#fff"/>
<rect x="478.32" y="235.55" width="8.20" height="1.81" fill="#000"/>
<rect x="478.32" y="235.75" width="8.20" height="134.45" fill="none" stroke="#444" stroke-width="0.6"/>
<path d="M478.32 313.73h8.2M478.32 260.22h8.2" stroke="#444" stroke-width="0.5" fill="none"/>
<path d="M482.42 303.65V323.81M481.32 303.65H483.52M481.32 323.81H483.52" stroke="#222" stroke-width="0.5" fill="none"/>
<path d="M482.42 252.15V268.29M481.32 252.15H483.52M481.32 268.29H483.52" stroke="#222" stroke-width="0.5" fill="none"/>
<path d="M482.42 236.34V242.79M481.32 236.34H483.52M481.32 242.79H483.52" stroke="#222" stroke-width="0.5" fill="none"/>
<text x="332.18000000000006" y="233.8" font-size="8.5" text-anchor="middle" font-weight="bold" fill="#000" stroke="#000" stroke-width="0.2">*</text>
<text x="482.4200000000001" y="233.8" font-size="8.5" text-anchor="middle" font-weight="bold" fill="#000" stroke="#000" stroke-width="0.2">*</text>
<rect x="497.50" y="239.80" width="2.80" height="2.80" fill="#000" stroke="#222" stroke-width="0.5"/>
<text x="502" y="242.9" font-size="4.5" fill="#333">G2/M</text>
<rect x="497.50" y="254.30" width="2.80" height="2.80" fill="#fff" stroke="#222" stroke-width="0.5"/>
<text x="502" y="257.40000000000003" font-size="4.5" fill="#333">S</text>
<rect x="497.50" y="269.00" width="2.80" height="2.80" fill="#7f7f7f" stroke="#222" stroke-width="0.5"/>
<text x="502" y="272.1" font-size="4.5" fill="#333">G0, G1</text>
<rect x="497.50" y="283.50" width="2.80" height="2.80" fill="#d8d8d8" stroke="#222" stroke-width="0.5"/>
<text x="502" y="286.6" font-size="4.5" fill="#333">Sub G0</text>
<text x="288.3" y="380.6" font-size="6.6" textLength="13.5" lengthAdjust="spacingAndGlyphs" stroke="#111" stroke-width="0.08">Thpo</text>
<text x="280.8" y="391.8" font-size="6.6" textLength="22.2" lengthAdjust="spacingAndGlyphs" stroke="#111" stroke-width="0.08">Inhibitor</text>
<text x="313.40000000000003" y="380.0" font-size="6" text-anchor="middle" fill="#444" stroke="#444" stroke-width="0.22">-</text>
<text x="332.18000000000006" y="380.6" font-size="6.5" text-anchor="middle" font-weight="bold">+</text>
<text x="350.96000000000004" y="380.0" font-size="6" text-anchor="middle" fill="#444" stroke="#444" stroke-width="0.22">-</text>
<text x="369.74" y="380.6" font-size="6.5" text-anchor="middle" font-weight="bold">+</text>
<text x="388.52000000000004" y="380.0" font-size="6" text-anchor="middle" fill="#444" stroke="#444" stroke-width="0.22">-</text>
<text x="407.30000000000007" y="380.6" font-size="6.5" text-anchor="middle" font-weight="bold">+</text>
<text x="426.08000000000004" y="380.0" font-size="6" text-anchor="middle" fill="#444" stroke="#444" stroke-width="0.22">-</text>
<text x="444.86" y="380.6" font-size="6.5" text-anchor="middle" font-weight="bold">+</text>
<text x="463.64000000000004" y="380.0" font-size="6" text-anchor="middle" fill="#444" stroke="#444" stroke-width="0.22">-</text>
<text x="482.4200000000001" y="380.6" font-size="6.5" text-anchor="middle" font-weight="bold">+</text>
<line x1="346.8" y1="382.7" x2="373.8" y2="382.7" stroke="#000" stroke-width="0.9"/>
<line x1="384.3" y1="382.7" x2="412.5" y2="382.7" stroke="#000" stroke-width="0.9"/>
<line x1="422.5" y1="382.7" x2="449.5" y2="382.7" stroke="#000" stroke-width="0.9"/>
<line x1="460" y1="382.7" x2="487" y2="382.7" stroke="#000" stroke-width="0.9"/>
<text x="345.8" y="391.8" font-size="6.6" textLength="31.7" lengthAdjust="spacingAndGlyphs" stroke="#111" stroke-width="0.08">Rapamycin</text>
<text x="384.5" y="391.8" font-size="6.6" textLength="29.3" lengthAdjust="spacingAndGlyphs" stroke="#111" stroke-width="0.08">wortmanin</text>
<text x="422.5" y="391.8" font-size="6.6" textLength="28.8" lengthAdjust="spacingAndGlyphs" stroke="#111" stroke-width="0.08">TG101348</text>
<text x="461.8" y="391.8" font-size="6.6" textLength="25.2" lengthAdjust="spacingAndGlyphs" stroke="#111" stroke-width="0.08">PD98059</text>
<text x="280.2" y="299" font-size="7.0" text-anchor="middle" textLength="88.7" lengthAdjust="spacingAndGlyphs" transform="rotate(-90 280.2 299)" stroke="#111" stroke-width="0.22">cells in cell cycle phase (%)</text>
</g>
<g id="panelE">
<text x="135" y="412" font-size="13.5" font-weight="bold" fill="#000" stroke="#000" stroke-width="0.35">E</text>
<line x1="174.3" y1="504.5" x2="367.5" y2="504.5" stroke="#8a8a8a" stroke-width="0.6"/>
<text x="171.5" y="506.1" font-size="4.4" text-anchor="end" fill="#333">0</text>
<line x1="174.3" y1="489.785" x2="367.5" y2="489.785" stroke="#a8a8a8" stroke-width="0.6"/>
<text x="171.5" y="491.38500000000005" font-size="4.4" text-anchor="end" fill="#333">0.5</text>
<line x1="174.3" y1="475.07" x2="367.5" y2="475.07" stroke="#a8a8a8" stroke-width="0.6"/>
<text x="171.5" y="476.67" font-size="4.4" text-anchor="end" fill="#333">1</text>
<line x1="174.3" y1="460.355" x2="367.5" y2="460.355" stroke="#a8a8a8" stroke-width="0.6"/>
<text x="171.5" y="461.95500000000004" font-size="4.4" text-anchor="end" fill="#333">1.5</text>
<line x1="174.3" y1="445.64" x2="367.5" y2="445.64" stroke="#a8a8a8" stroke-width="0.6"/>
<text x="171.5" y="447.24" font-size="4.4" text-anchor="end" fill="#333">2</text>
<line x1="174.3" y1="430.925" x2="367.5" y2="430.925" stroke="#a8a8a8" stroke-width="0.6"/>
<text x="171.5" y="432.52500000000003" font-size="4.4" text-anchor="end" fill="#333">2.5</text>
<line x1="174.3" y1="416.21000000000004" x2="367.5" y2="416.21000000000004" stroke="#a8a8a8" stroke-width="0.6"/>
<text x="171.5" y="417.81000000000006" font-size="4.4" text-anchor="end" fill="#333">3</text>
<line x1="174.3" y1="416.21000000000004" x2="174.3" y2="504.5" stroke="#8a8a8a" stroke-width="0.6"/>
<rect x="184.30" y="475.07" width="13.30" height="29.43" fill="#a6a6a6" stroke="#8a8a8a" stroke-width="0.7"/>
<path d="M190.95 473.30V476.84M189.95 473.30H191.95M189.95 476.84H191.95" stroke="#333" stroke-width="0.5" fill="none"/>
<rect x="216.30" y="457.41" width="13.30" height="47.09" fill="#a6a6a6" stroke="#8a8a8a" stroke-width="0.7"/>
<path d="M222.95 456.53V458.29M221.95 456.53H223.95M221.95 458.29H223.95" stroke="#333" stroke-width="0.5" fill="none"/>
<rect x="248.30" y="476.39" width="13.30" height="28.11" fill="#a6a6a6" stroke="#8a8a8a" stroke-width="0.7"/>
<path d="M254.95 474.92V477.87M253.95 474.92H255.95M253.95 477.87H255.95" stroke="#333" stroke-width="0.5" fill="none"/>
<rect x="280.20" y="468.74" width="13.30" height="35.76" fill="#a6a6a6" stroke="#8a8a8a" stroke-width="0.7"/>
<path d="M286.85 468.30V469.18M285.85 468.30H287.85M285.85 469.18H287.85" stroke="#333" stroke-width="0.5" fill="none"/>
<rect x="312.10" y="446.23" width="13.30" height="58.27" fill="#a6a6a6" stroke="#8a8a8a" stroke-width="0.7"/>
<path d="M318.75 445.35V447.11M317.75 445.35H319.75M317.75 447.11H319.75" stroke="#333" stroke-width="0.5" fill="none"/>
<rect x="344.20" y="430.93" width="13.30" height="73.57" fill="#a6a6a6" stroke="#8a8a8a" stroke-width="0.7"/>
<path d="M350.85 429.75V432.10M349.85 429.75H351.85M349.85 432.10H351.85" stroke="#333" stroke-width="0.5" fill="none"/>
<path d="M190.8 455.6V452.5H222.6V455.6" stroke="#111" stroke-width="1.0" fill="none"/>
<path d="M190.8 443V440H319.3V443" stroke="#111" stroke-width="1.0" fill="none"/>
<path d="M190.8 428V425H351.3V428" stroke="#111" stroke-width="1.0" fill="none"/>
<text x="207.9" y="459.4" font-size="8.5" text-anchor="middle" font-weight="bold" fill="#000" stroke="#000" stroke-width="0.25">*</text>
<text x="254.2" y="447.4" font-size="8.5" text-anchor="middle" font-weight="bold" fill="#000" stroke="#000" stroke-width="0.25">*</text>
<text x="274.7" y="432.2" font-size="8.5" text-anchor="middle" font-weight="bold" fill="#000" stroke="#000" stroke-width="0.25">*</text>
<text x="366.3" y="413.6" font-size="6.8" text-anchor="end" textLength="22.5" lengthAdjust="spacingAndGlyphs" stroke="#111" stroke-width="0.08">P&lt;0.01</text>
<text x="193" y="517.6" font-size="8.2" text-anchor="middle" textLength="17.6" lengthAdjust="spacingAndGlyphs" stroke="#111" stroke-width="0.22">PBS</text>
<text x="222.6" y="517.6" font-size="8.2" text-anchor="middle" textLength="11.6" lengthAdjust="spacingAndGlyphs" stroke="#111" stroke-width="0.22">IL3</text>
<text x="254.6" y="517.6" font-size="8.2" text-anchor="middle" textLength="11.6" lengthAdjust="spacingAndGlyphs" stroke="#111" stroke-width="0.22">IL6</text>
<text x="286.5" y="517.6" font-size="8.2" text-anchor="middle" textLength="17" lengthAdjust="spacingAndGlyphs" stroke="#111" stroke-width="0.22">SCF</text>
<text x="320.3" y="517.6" font-size="8.2" text-anchor="middle" textLength="23" lengthAdjust="spacingAndGlyphs" stroke="#111" stroke-width="0.22">THPO</text>
<text x="354.8" y="517.6" font-size="8.2" text-anchor="middle" textLength="34.5" lengthAdjust="spacingAndGlyphs" stroke="#111" stroke-width="0.22">IL3+IL6+</text>
<text x="355.3" y="528.4" font-size="8.2" text-anchor="middle" textLength="47.3" lengthAdjust="spacingAndGlyphs" stroke="#111" stroke-width="0.22">SCF+THPO</text>
<text x="156.3" y="459.3" font-size="9.3" text-anchor="middle" textLength="106.5" lengthAdjust="spacingAndGlyphs" transform="rotate(-90 156.3 459.3)" stroke="#111" stroke-width="0.22">Proliferation (fold change)</text>
</g>
<g id="panelF1">
<text x="2.0" y="541.3" font-size="13.3" font-weight="bold" fill="#000" stroke="#000" stroke-width="0.35">F</text>
<text x="34.5" y="541.9" font-size="10.2" textLength="99" lengthAdjust="spacingAndGlyphs" stroke="#111" stroke-width="0.22">MIG-R1E / MID-PL2</text>
<rect x="33.30" y="545.80" width="204.75" height="113.00" fill="#fff" stroke="#555" stroke-width="0.7"/>
<line x1="31.299999999999997" y1="658.8" x2="33.3" y2="658.8" stroke="#555" stroke-width="0.7"/>
<text x="29.8" y="661.3" font-size="7.0" text-anchor="end" stroke="#111" stroke-width="0.22">0</text>
<line x1="33.3" y1="636.1999999999999" x2="238.05" y2="636.1999999999999" stroke="#555" stroke-width="0.9"/>
<line x1="31.299999999999997" y1="636.1999999999999" x2="33.3" y2="636.1999999999999" stroke="#555" stroke-width="0.7"/>
<text x="29.8" y="638.6999999999999" font-size="7.0" text-anchor="end" stroke="#111" stroke-width="0.22">20</text>
<line x1="33.3" y1="613.5999999999999" x2="238.05" y2="613.5999999999999" stroke="#555" stroke-width="0.9"/>
<line x1="31.299999999999997" y1="613.5999999999999" x2="33.3" y2="613.5999999999999" stroke="#555" stroke-width="0.7"/>
<text x="29.8" y="616.0999999999999" font-size="7.0" text-anchor="end" stroke="#111" stroke-width="0.22">40</text>
<line x1="33.3" y1="591.0" x2="238.05" y2="591.0" stroke="#555" stroke-width="0.9"/>
<line x1="31.299999999999997" y1="591.0" x2="33.3" y2="591.0" stroke="#555" stroke-width="0.7"/>
<text x="29.8" y="593.5" font-size="7.0" text-anchor="end" stroke="#111" stroke-width="0.22">60</text>
<line x1="33.3" y1="568.4" x2="238.05" y2="568.4" stroke="#555" stroke-width="0.9"/>
<line x1="31.299999999999997" y1="568.4" x2="33.3" y2="568.4" stroke="#555" stroke-width="0.7"/>
<text x="29.8" y="570.9" font-size="7.0" text-anchor="end" stroke="#111" stroke-width="0.22">80</text>
<line x1="31.299999999999997" y1="545.8" x2="33.3" y2="545.8" stroke="#555" stroke-width="0.7"/>
<text x="29.8" y="548.3" font-size="7.0" text-anchor="end" stroke="#111" stroke-width="0.22">100</text>
<line x1="33.3" y1="658.8" x2="33.3" y2="661.0" stroke="#555" stroke-width="0.7"/>
<text x="33.3" y="670.3" font-size="5.6" text-anchor="middle" stroke="#111" stroke-width="0.22">0</text>
<line x1="62.55" y1="658.8" x2="62.55" y2="661.0" stroke="#555" stroke-width="0.7"/>
<text x="62.55" y="670.3" font-size="5.6" text-anchor="middle" stroke="#111" stroke-width="0.22">10</text>
<line x1="91.8" y1="658.8" x2="91.8" y2="661.0" stroke="#555" stroke-width="0.7"/>
<text x="91.8" y="670.3" font-size="5.6" text-anchor="middle" stroke="#111" stroke-width="0.22">20</text>
<line x1="121.05" y1="658.8" x2="121.05" y2="661.0" stroke="#555" stroke-width="0.7"/>
<text x="121.05" y="670.3" font-size="5.6" text-anchor="middle" stroke="#111" stroke-width="0.22">30</text>
<line x1="150.3" y1="658.8" x2="150.3" y2="661.0" stroke="#555" stroke-width="0.7"/>
<text x="150.3" y="670.3" font-size="5.6" text-anchor="middle" stroke="#111" stroke-width="0.22">40</text>
<line x1="179.55" y1="658.8" x2="179.55" y2="661.0" stroke="#555" stroke-width="0.7"/>
<text x="179.55" y="670.3" font-size="5.6" text-anchor="middle" stroke="#111" stroke-width="0.22">50</text>
<line x1="208.8" y1="658.8" x2="208.8" y2="661.0" stroke="#555" stroke-width="0.7"/>
<text x="208.8" y="670.3" font-size="5.6" text-anchor="middle" stroke="#111" stroke-width="0.22">60</text>
<line x1="238.05" y1="658.8" x2="238.05" y2="661.0" stroke="#555" stroke-width="0.7"/>
<text x="238.05" y="670.3" font-size="5.6" text-anchor="middle" stroke="#111" stroke-width="0.22">70</text>
<path d="M33.3 545.8H115.20V574.05H118.12V588.17H123.97V630.55H135.68V644.67H141.52V658.80" stroke="#000" stroke-width="1.6" fill="none" stroke-dasharray="4.1 1.5"/>
<path d="M141.52 658.80H238.05" stroke="#000" stroke-width="1.3" fill="none" stroke-dasharray="2.4 1"/>
<path d="M123.97 607.95H183.2" stroke="#000" stroke-width="1.6" fill="none" stroke-dasharray="4.2 1.6"/>
<path d="M33.3 545.8H153.22V561.96H179.55V594.28H185.40V610.32H194.18V642.64H238.05" stroke="#000" stroke-width="1.5" fill="none"/>
<text x="184" y="561.2" font-size="10.2" textLength="50.7" lengthAdjust="spacingAndGlyphs" stroke="#111" stroke-width="0.22">rapamycin</text>
<text x="69.5" y="584.3" font-size="10.2" textLength="34.3" lengthAdjust="spacingAndGlyphs" stroke="#111" stroke-width="0.22">vehicle</text>
<text x="131" y="604" font-size="10.2" textLength="47" lengthAdjust="spacingAndGlyphs" stroke="#111" stroke-width="0.22">P&lt;0.0001</text>
<text x="103.5" y="686.6" font-size="10.2" textLength="58" lengthAdjust="spacingAndGlyphs" stroke="#111" stroke-width="0.22">Time (days)</text>
<text x="12.8" y="601.4" font-size="10.5" text-anchor="middle" textLength="60.5" lengthAdjust="spacingAndGlyphs" transform="rotate(-90 12.8 601.4)" stroke="#111" stroke-width="0.22">Survival (%)</text>
</g>
<g id="panelF2">
<text x="304.4" y="546.6" font-size="10.2" textLength="89" lengthAdjust="spacingAndGlyphs" stroke="#111" stroke-width="0.22">MIG-R1E9a / MID</text>
<line x1="305.2" y1="554.8000000000001" x2="305.2" y2="661.7" stroke="#666" stroke-width="0.8"/>
<line x1="305.2" y1="659.2" x2="511.2" y2="659.2" stroke="#666" stroke-width="0.8"/>
<text x="298.8" y="662.5" font-size="9.3" text-anchor="end" stroke="#111" stroke-width="0.22">0</text>
<line x1="305.2" y1="638.32" x2="511.2" y2="638.32" stroke="#333" stroke-width="1.4" stroke-dasharray="1 0.5"/>
<text x="298.8" y="641.62" font-size="9.3" text-anchor="end" stroke="#111" stroke-width="0.22">20</text>
<line x1="305.2" y1="617.44" x2="511.2" y2="617.44" stroke="#333" stroke-width="1.4" stroke-dasharray="1 0.5"/>
<text x="298.8" y="620.74" font-size="9.3" text-anchor="end" stroke="#111" stroke-width="0.22">40</text>
<line x1="305.2" y1="596.5600000000001" x2="511.2" y2="596.5600000000001" stroke="#333" stroke-width="1.4" stroke-dasharray="1 0.5"/>
<text x="298.8" y="599.86" font-size="9.3" text-anchor="end" stroke="#111" stroke-width="0.22">60</text>
<line x1="305.2" y1="575.6800000000001" x2="511.2" y2="575.6800000000001" stroke="#333" stroke-width="1.4" stroke-dasharray="1 0.5"/>
<text x="298.8" y="578.98" font-size="9.3" text-anchor="end" stroke="#111" stroke-width="0.22">80</text>
<line x1="305.2" y1="554.8000000000001" x2="511.2" y2="554.8000000000001" stroke="#333" stroke-width="1.4" stroke-dasharray="1 0.5"/>
<text x="298.8" y="558.1" font-size="9.3" text-anchor="end" stroke="#111" stroke-width="0.22">100</text>
<line x1="305.2" y1="659.2" x2="305.2" y2="661.7" stroke="#666" stroke-width="0.8"/>
<text x="305.2" y="674.2" font-size="9.3" text-anchor="middle" stroke="#111" stroke-width="0.22">0</text>
<line x1="346.4" y1="659.2" x2="346.4" y2="661.7" stroke="#666" stroke-width="0.8"/>
<text x="346.4" y="674.2" font-size="9.3" text-anchor="middle" stroke="#111" stroke-width="0.22">10</text>
<line x1="387.6" y1="659.2" x2="387.6" y2="661.7" stroke="#666" stroke-width="0.8"/>
<text x="387.6" y="674.2" font-size="9.3" text-anchor="middle" stroke="#111" stroke-width="0.22">20</text>
<line x1="428.8" y1="659.2" x2="428.8" y2="661.7" stroke="#666" stroke-width="0.8"/>
<text x="428.8" y="674.2" font-size="9.3" text-anchor="middle" stroke="#111" stroke-width="0.22">30</text>
<line x1="470.0" y1="659.2" x2="470.0" y2="661.7" stroke="#666" stroke-width="0.8"/>
<text x="470.0" y="674.2" font-size="9.3" text-anchor="middle" stroke="#111" stroke-width="0.22">40</text>
<line x1="511.2" y1="659.2" x2="511.2" y2="661.7" stroke="#666" stroke-width="0.8"/>
<text x="511.2" y="674.2" font-size="9.3" text-anchor="middle" stroke="#111" stroke-width="0.22">50</text>
<path d="M391.51 554.80V588.21" stroke="#000" stroke-width="1.7" fill="none" stroke-dasharray="4.5 4 11.5 4 9 4"/>
<path d="M305.2 554.80H379.36V571.09H383.89V588.21H395.84V659.20H470.00" stroke="#000" stroke-width="1.7" fill="none"/>
<path d="M305.2 554.80H392.13" stroke="#000" stroke-width="1.9" fill="none"/>
<text x="406" y="570.4" font-size="10.2" textLength="34.8" lengthAdjust="spacingAndGlyphs" stroke="#111" stroke-width="0.22">vehicle</text>
<text x="322.2" y="588.2" font-size="10.2" textLength="50.3" lengthAdjust="spacingAndGlyphs" stroke="#111" stroke-width="0.22">rapamycin</text>
<text x="427.9" y="688.8" font-size="10.2" textLength="58.5" lengthAdjust="spacingAndGlyphs" stroke="#111" stroke-width="0.22">Time (days)</text>
<text x="281" y="604.7" font-size="10.2" text-anchor="middle" textLength="58" lengthAdjust="spacingAndGlyphs" transform="rotate(-90 281 604.7)" stroke="#111" stroke-width="0.22">Survival (%)</text>
</g>
</svg>
</body></html>
